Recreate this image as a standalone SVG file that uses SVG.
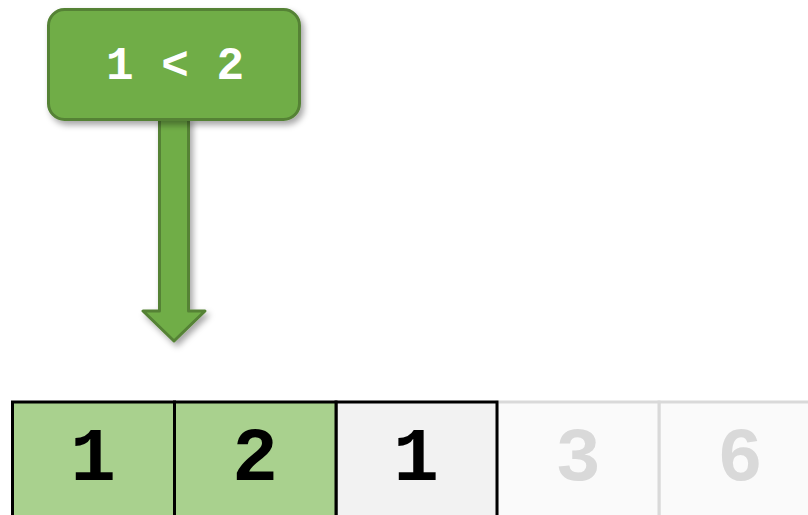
<svg xmlns="http://www.w3.org/2000/svg" width="808" height="515" viewBox="0 0 808 515">
<defs>
<filter id="sh" x="-20%" y="-20%" width="140%" height="150%">
<feDropShadow dx="3" dy="4" stdDeviation="3" flood-color="#000" flood-opacity="0.35"/>
</filter>
<style>
.g{fill:#70ad47;stroke:#548235;stroke-width:3;stroke-linejoin:round}
.act{fill:#a9d18e;stroke:#000;stroke-width:3}
.cur{fill:#f2f2f2;stroke:#000;stroke-width:3}
.off{fill:#fafafa;stroke:#d9d9d9;stroke-width:3}
.d{font-family:"Liberation Mono","Courier New",monospace;font-weight:bold;font-size:76px;text-anchor:middle}
</style>
</defs>
<rect width="808" height="515" fill="#fff"/>
<g id="cell4"><rect class="off" x="659" y="402" width="162" height="130"/><text class="d" x="740" y="480" fill="#d9d9d9">6</text></g>
<g id="cell3"><rect class="off" x="497" y="402" width="162" height="130"/><text class="d" x="578" y="480" fill="#d9d9d9">3</text></g>
<g id="cell2"><rect class="cur" x="336" y="402" width="161" height="130"/><text class="d" x="416" y="480" fill="#000">1</text></g>
<g id="cell0"><rect class="act" x="12.5" y="402" width="162" height="130"/><text class="d" x="93" y="480" fill="#000">1</text></g>
<g id="cell1"><rect class="act" x="174.5" y="402" width="161.5" height="130"/><text class="d" x="255" y="480" fill="#000">2</text></g>
<g id="connectors">
<path class="g" filter="url(#sh)" d="M159.5,118 L188.5,118 L188.5,311 L205,311 L174,341 L143,311 L159.5,311 Z"/>
</g>
<g id="label">
<rect class="g" filter="url(#sh)" x="48.5" y="9.5" width="251" height="110" rx="16"/>
<text x="175" y="79" fill="#fff" font-family="'Liberation Mono','Courier New',monospace" font-weight="bold" font-size="46" text-anchor="middle">1 &lt; 2</text>
</g>
</svg>
